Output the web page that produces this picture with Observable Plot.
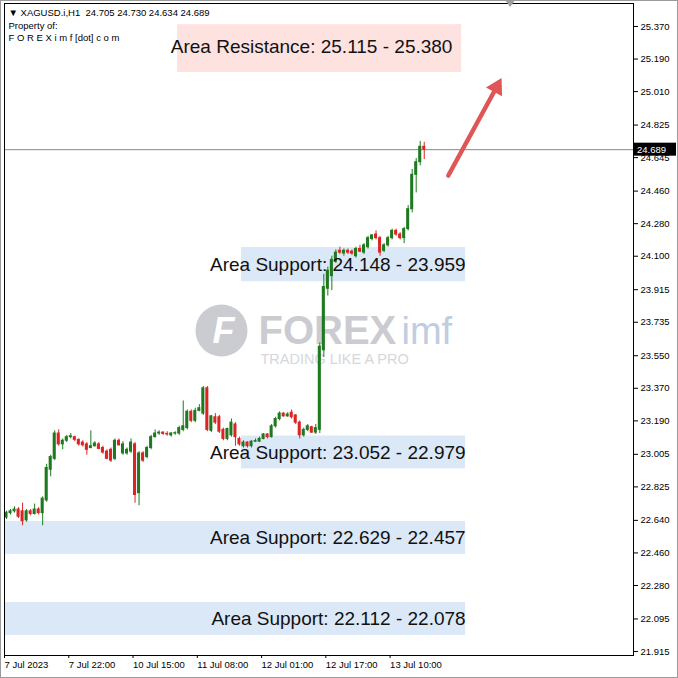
<!DOCTYPE html>
<html><head><meta charset="utf-8">
<script src="https://cdn.jsdelivr.net/npm/d3@7"></script>
<script src="https://cdn.jsdelivr.net/npm/@observablehq/plot@0.6"></script>
<style>
html,body{margin:0;padding:0;background:#fff;}
#chart{width:678px;height:678px;}
</style></head><body><div id="chart"></div>
<script>
// ---- Data: XAGUSD H1 candles (bar index 0 = 7 Jul 2023 06:00) ----
const opens  = [22.655,22.680,22.690,22.700,22.690,22.640,22.690,22.675,22.700,22.680,
  22.750,22.920,22.980,23.120,23.060,23.080,23.100,23.100,23.085,23.070,
  23.060,23.040,23.050,23.060,23.040,23.020,23.030,22.980,23.080,23.010,
  23.010,23.020,23.060,22.790,23.010,22.990,23.040,23.100,23.120,23.125,
  23.118,23.110,23.120,23.120,23.140,23.150,23.240,23.190,23.245,23.230,
  23.370,23.135,23.210,23.210,23.140,23.090,23.110,23.170,23.090,23.050,
  23.070,23.050,23.075,23.075,23.090,23.115,23.100,23.160,23.200,23.230,
  23.215,23.235,23.220,23.180,23.110,23.140,23.155,23.125,23.140,23.580,
  23.920,23.990,24.070,24.130,24.115,24.130,24.125,24.100,24.140,24.120,
  24.150,24.195,24.220,24.200,24.130,24.160,24.200,24.240,24.220,24.200,
  24.250,24.360,24.550,24.620,24.705];
const highs  = [22.690,22.700,22.715,22.710,22.735,22.700,22.700,22.730,22.710,22.770,
  22.950,23.000,23.135,23.140,23.090,23.110,23.120,23.105,23.090,23.080,
  23.070,23.135,23.075,23.070,23.050,23.030,23.040,23.090,23.090,23.075,
  23.040,23.090,23.070,23.020,23.020,23.050,23.110,23.140,23.135,23.130,
  23.130,23.125,23.130,23.160,23.300,23.250,23.250,23.260,23.280,23.380,
  23.380,23.220,23.230,23.220,23.150,23.150,23.200,23.180,23.100,23.080,
  23.075,23.080,23.090,23.100,23.120,23.120,23.170,23.210,23.240,23.235,
  23.235,23.250,23.225,23.190,23.150,23.170,23.160,23.170,23.620,24.000,
  24.040,24.100,24.135,24.150,24.140,24.140,24.135,24.150,24.160,24.170,
  24.210,24.220,24.240,24.210,24.170,24.210,24.250,24.250,24.230,24.260,
  24.380,24.580,24.640,24.735,24.730];
const lows   = [22.645,22.670,22.680,22.650,22.610,22.630,22.665,22.670,22.670,22.610,
  22.740,22.880,22.970,23.050,23.030,23.070,23.090,23.075,23.050,23.045,
  23.000,23.035,23.045,23.030,23.005,22.975,22.960,22.970,23.050,23.000,
  23.000,23.010,22.735,22.720,22.960,22.980,23.030,23.095,23.110,23.110,
  23.105,23.100,23.110,23.110,23.130,23.140,23.180,23.180,23.240,23.220,
  23.130,23.125,23.170,23.120,23.080,23.080,23.100,23.050,23.050,23.040,
  23.040,23.040,23.070,23.070,23.085,23.090,23.095,23.150,23.190,23.210,
  23.210,23.200,23.170,23.090,23.100,23.130,23.120,23.115,23.120,23.540,
  23.880,23.910,24.060,24.110,24.100,24.110,24.105,24.090,24.120,24.110,
  24.140,24.185,24.190,24.100,24.120,24.150,24.190,24.210,24.190,24.170,
  24.240,24.340,24.450,24.600,24.634];
const closes = [22.682,22.690,22.700,22.660,22.635,22.690,22.675,22.700,22.680,22.760,
  22.930,22.990,23.120,23.060,23.080,23.100,23.105,23.085,23.060,23.055,
  23.030,23.050,23.065,23.035,23.015,22.980,22.970,23.080,23.055,23.060,
  23.030,23.070,22.780,23.010,22.970,23.040,23.100,23.120,23.125,23.118,
  23.115,23.120,23.122,23.150,23.160,23.240,23.190,23.245,23.260,23.370,
  23.140,23.215,23.180,23.130,23.090,23.145,23.180,23.100,23.060,23.070,
  23.050,23.075,23.078,23.090,23.115,23.100,23.160,23.200,23.230,23.215,
  23.225,23.210,23.180,23.110,23.140,23.160,23.125,23.150,23.600,23.930,
  24.020,24.080,24.120,24.120,24.130,24.120,24.115,24.140,24.125,24.160,
  24.200,24.215,24.200,24.120,24.160,24.200,24.240,24.220,24.200,24.250,
  24.360,24.550,24.620,24.705,24.689];

const timeTicks  = [0, 16, 32, 48, 64, 80, 96];
const timeLabels = ["7 Jul 2023","7 Jul 22:00","10 Jul 15:00","11 Jul 08:00","12 Jul 01:00","12 Jul 17:00","13 Jul 10:00"];
const priceTicks = [25.370,25.190,25.010,24.825,24.645,24.460,24.280,24.100,23.915,23.735,
  23.550,23.370,23.190,23.005,22.825,22.640,22.460,22.280,22.095,21.915];

const zoneKind  = ["R","S","S","S","S"];
const zoneLabel = ["Area Resistance: 25.115 - 25.380","Area Support: 24.148 - 23.959",
  "Area Support: 23.052 - 22.979","Area Support: 22.629 - 22.457","Area Support: 22.112 - 22.078"];
const zoneLow   = [25.115, 23.959, 22.979, 22.457, 22.078];
const zoneHigh  = [25.380, 24.148, 23.052, 22.629, 22.112];
const zoneFrom  = [42.6, 58.5, 58.5, -0.5, -0.5];
const zoneTo    = [113.3, 114.3, 114.3, 114.3, 114.3];

const headerLine1 = "\u25BC XAGUSD.i,H1  24.705 24.730 24.634 24.689";
const headerLine2 = "Property of:";
const headerLine3 = "F O R E X i m f [dot] c o m";
const lastPrice = closes[closes.length - 1];
// forecast arrow: [bar index, price] tail and head
const arrowFrom = [110.0, 24.546];
const arrowTo   = [122.0, 25.034];

// ---- Build tables ----
const GREEN = "#1f7a1f", RED = "#dc2424";
const bars = opens.map((o, i) => ({i, o, h: highs[i], l: lows[i], c: closes[i], col: closes[i] >= o ? GREEN : RED}));
const MINHALF = 0.091;
const zones = zoneLabel.map((label, k) => {
  const mid = (zoneLow[k] + zoneHigh[k]) / 2;
  const half = Math.max((zoneHigh[k] - zoneLow[k]) / 2, MINHALF);
  return {kind: zoneKind[k], label, x1: zoneFrom[k], x2: zoneTo[k], mid, lo: mid - half, hi: mid + half,
    fill: zoneKind[k] === "R" ? "#fde2e0" : "#dbe8f7"};
});
const arrow = [{x1: arrowFrom[0], y1: arrowFrom[1], x2: arrowTo[0], y2: arrowTo[1]}];
const arrowAngle = 28.4;

const FONT = "Liberation Sans, Arial, sans-serif";
const hdr = (t, dy) => Plot.text([t], {frameAnchor: "top-left", dx: 4, dy, lineAnchor: "middle", textAnchor: "start", fontSize: 9.5, fill: "#000"});
const wm = (t, o) => Plot.text([t], {frameAnchor: "top-left", lineAnchor: "middle", ...o});

const chart = Plot.plot({
  width: 678, height: 678,
  marginTop: 3, marginLeft: 4, marginRight: 45, marginBottom: 23,
  x: {domain: [-0.5, 156.1]},
  y: {domain: [21.893, 25.497]},
  color: {type: "identity"},
  style: {fontFamily: FONT, fontSize: "9.5px", background: "#fff", color: "#000"},
  marks: [
    // zones
    Plot.rect(zones, {x1: "x1", x2: "x2", y1: "lo", y2: "hi", fill: "fill"}),
    // watermark
    Plot.dot([0], {frameAnchor: "top-left", dx: 217, dy: 327, r: 26, fill: "#cbccd1"}),
    wm("F", {dx: 219, dy: 328, textAnchor: "middle", fontSize: 36, fontWeight: "bold", fontStyle: "italic", fill: "#fff"}),
    wm("FOREX", {dx: 254, dy: 328, textAnchor: "start", fontSize: 40, fontWeight: "bold", fill: "#cbccd1"}),
    wm("imf", {dx: 397, dy: 328, textAnchor: "start", fontSize: 38, fill: "#bfcde0"}),
    wm("TRADING LIKE A PRO", {dx: 256, dy: 356, textAnchor: "start", fontSize: 14.5, letterSpacing: "1.6px", fill: "#d6d7db"}),
    // current price line
    Plot.ruleY([lastPrice], {stroke: "#7c8a96", strokeWidth: 1}),
    // candles
    Plot.ruleX(bars, {x: "i", y1: "l", y2: "h", stroke: "col", strokeWidth: 1}),
    Plot.rect(bars, {x1: d => d.i - 0.38, x2: d => d.i + 0.38, y1: "o", y2: "c", fill: "col", insetTop: -0.5, insetBottom: -0.5}),
    // zone labels
    Plot.text(zones.filter(d => d.kind === "R"), {x: d => (d.x1 + d.x2) / 2, y: "mid", text: "label", dx: -8, dy: -1.5, fontSize: 19, fill: "#111"}),
    Plot.text(zones.filter(d => d.kind === "S"), {x: "x2", y: "mid", text: "label", textAnchor: "end", dx: 0, fontSize: 19, fill: "#111"}),
    // arrow
    Plot.link(arrow, {x1: "x1", y1: "y1", x2: "x2", y2: "y2", stroke: "#e05656", strokeWidth: 4.5, strokeLinecap: "round"}),
    Plot.dot(arrow, {x: "x2", y: "y2", symbol: "triangle", r: 6.8, rotate: arrowAngle, fill: "#e05656"}),
    // header
    hdr(headerLine1, 9),
    hdr(headerLine2, 22),
    hdr(headerLine3, 34),
    // axes
    Plot.axisY(priceTicks, {anchor: "right", tickSize: 4, tickPadding: 3, tickFormat: d => d.toFixed(3), label: null, fontSize: 9.5}),
    Plot.axisX(timeTicks, {anchor: "bottom", tickSize: 3, tickPadding: 3, tickFormat: d => timeLabels[timeTicks.indexOf(d)], textAnchor: "start", dx: -2, label: null, fontSize: 9.5}),
    Plot.frame({stroke: "#000"})
  ]
});

document.getElementById("chart").appendChild(chart);

const svg = d3.select(chart);
const ys = chart.scale("y"), xs = chart.scale("x");
// current price label on the axis
const py = ys.apply(lastPrice);
const g = svg.append("g").attr("text-anchor", "start");
g.append("rect").attr("x", 634).attr("y", py - 6.5).attr("width", 42).attr("height", 13).attr("fill", "#000");
g.append("text").attr("x", 637).attr("y", py).attr("dy", "0.35em").attr("fill", "#fff")
  .attr("text-anchor", "start").attr("font-family", FONT).attr("font-size", 9.5).text(lastPrice.toFixed(3));
// chart-shift marker
const sx = xs.apply(125.5);
g.append("path").attr("d", `M${sx - 5},0 L${sx + 5},0 L${sx},7 Z`).attr("fill", "#9aa0a8");
// window border
g.append("rect").attr("x", 0.5).attr("y", 0.5).attr("width", 677).attr("height", 677).attr("fill", "none").attr("stroke", "#9a9a9a");
</script>
</body></html>
